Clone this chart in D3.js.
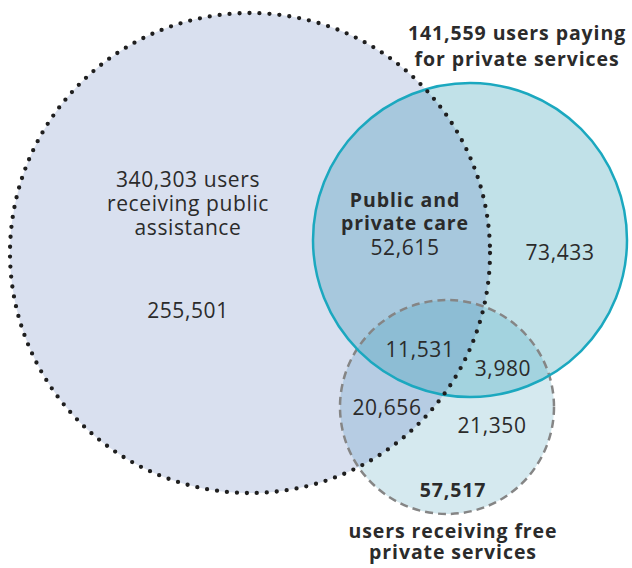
<!DOCTYPE html>
<html>
<head>
<meta charset="utf-8">
<script src="https://cdn.jsdelivr.net/npm/d3@7"></script>
<style>
  body { margin: 0; background: #fff; }
  text { font-family: "Open Sans", sans-serif; fill: #2b2b2b; }
</style>
</head>
<body>
<script>
// sets and their totals
const setKeys = ["public", "paying", "free"];
const setTotals = [340303, 141559, 57517];
const setTitles = [
  ["340,303 users", "receiving public", "assistance"],
  ["141,559 users paying", "for private services"],
  ["users receiving free", "private services"]
];

// regions of the diagram (which sets they belong to) and counts
const regionSets = [["public"], ["paying"], ["free"], ["public", "paying"], ["public", "free"], ["paying", "free"], ["public", "paying", "free"]];
const regionValues = [255501, 73433, 21350, 52615, 20656, 3980, 11531];

// layout
const width = 632, height = 568;
const circles = {
  public: {cx: 250, cy: 253, r: 240, fill: "#d9e0ef"},
  paying: {cx: 470, cy: 240, r: 157, fill: "#c1e1e8"},
  free:   {cx: 447, cy: 407, r: 107, fill: "#d5e9ef"}
};
const regionFill = {
  "public,paying": "#a7c8dd",
  "public,free": "#b6cce3",
  "paying,free": "#a3d3df",
  "public,paying,free": "#8dbdd4"
};
const regionLabelPos = {
  "public": [188, 318],
  "paying": [560, 260],
  "free": [492, 433],
  "public,paying": [405, 255],
  "public,free": [387, 415],
  "paying,free": [503, 376],
  "public,paying,free": [420, 357]
};

const fmt = d3.format(",");
const regSize = 21, regSpacing = 0.6;
const boldSize = 19.5, boldSpacing = 0.9;

const svg = d3.select("body").append("svg")
  .attr("width", width)
  .attr("height", height);

const defs = svg.append("defs");
setKeys.forEach(k => {
  const c = circles[k];
  defs.append("clipPath").attr("id", "clip-" + k)
    .append("circle").attr("cx", c.cx).attr("cy", c.cy).attr("r", c.r);
});

// base fills
const fills = svg.append("g");
setKeys.forEach(k => {
  const c = circles[k];
  fills.append("circle")
    .attr("cx", c.cx).attr("cy", c.cy).attr("r", c.r)
    .attr("fill", c.fill);
});

// overlaps: draw the last set's circle, clipped by the others
regionSets.filter(s => s.length > 1).forEach(s => {
  const last = circles[s[s.length - 1]];
  let g = fills;
  s.slice(0, -1).forEach(k => {
    g = g.append("g").attr("clip-path", `url(#clip-${k})`);
  });
  g.append("circle")
    .attr("cx", last.cx).attr("cy", last.cy).attr("r", last.r)
    .attr("fill", regionFill[s.join(",")]);
});

// outlines
svg.append("circle")
  .attr("cx", circles.free.cx).attr("cy", circles.free.cy).attr("r", circles.free.r)
  .attr("fill", "none").attr("stroke", "#858585").attr("stroke-width", 2.5)
  .attr("stroke-dasharray", "8 5");

svg.append("circle")
  .attr("cx", circles.paying.cx).attr("cy", circles.paying.cy).attr("r", circles.paying.r)
  .attr("fill", "none").attr("stroke", "#1ba8bf").attr("stroke-width", 2.5);

svg.append("circle")
  .attr("cx", circles.public.cx).attr("cy", circles.public.cy).attr("r", circles.public.r)
  .attr("fill", "none").attr("stroke", "#1f1f1f").attr("stroke-width", 4.3)
  .attr("stroke-linecap", "round")
  .attr("stroke-dasharray", "0 10");

// region counts
svg.append("g").selectAll("text")
  .data(regionSets.map((s, i) => ({key: s.join(","), value: regionValues[i]})))
  .join("text")
  .attr("x", d => regionLabelPos[d.key][0])
  .attr("y", d => regionLabelPos[d.key][1])
  .attr("text-anchor", "middle")
  .attr("font-size", regSize)
  .attr("letter-spacing", regSpacing)
  .text(d => fmt(d.value));

// titles
function lines(x, y, arr, bold, lh) {
  const t = svg.append("text")
    .attr("text-anchor", "middle")
    .attr("font-size", bold ? boldSize : regSize)
    .attr("letter-spacing", bold ? boldSpacing : regSpacing)
    .attr("font-weight", bold ? 700 : 400);
  arr.forEach((l, i) => t.append("tspan").attr("x", x).attr("y", y + i * lh).text(l));
}

lines(188, 187, setTitles[0], false, 24);
lines(517, 40, setTitles[1], true, 26);
lines(453, 538, setTitles[2], true, 21);
lines(405, 207, ["Public and", "private care"], true, 23);
lines(453, 497, [fmt(setTotals[2])], true, 0);
</script>
</body>
</html>
